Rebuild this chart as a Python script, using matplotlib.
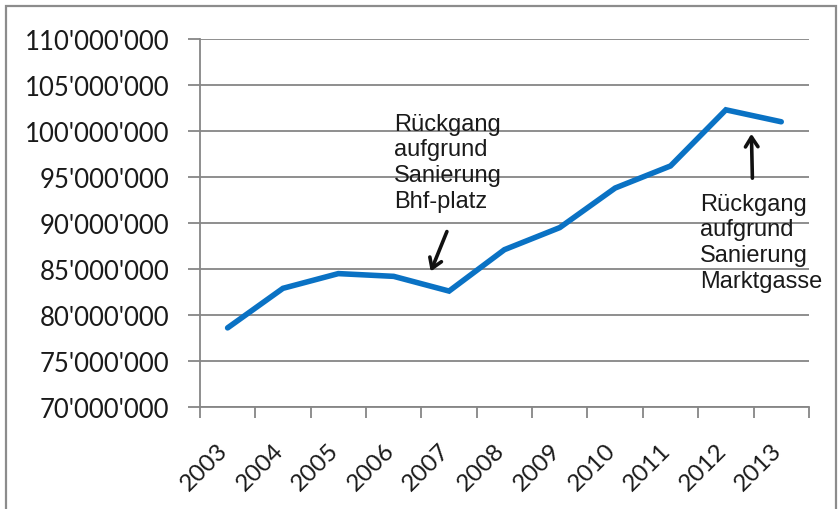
import matplotlib
matplotlib.use("Agg")
import matplotlib.pyplot as plt
from matplotlib.patches import Rectangle
from matplotlib.ticker import FuncFormatter, MultipleLocator

# Jahresumsatz 2003-2013
jahre = ['2003', '2004', '2005', '2006', '2007', '2008', '2009', '2010', '2011', '2012', '2013']
umsatz = [78_600_000, 82_900_000, 84_500_000, 84_200_000, 82_600_000, 87_100_000,
          89_500_000, 93_800_000, 96_200_000, 102_300_000, 101_000_000]

notiz_bhf = "Rückgang\naufgrund\nSanierung\nBhf-platz"
notiz_markt = "Rückgang\naufgrund\nSanierung\nMarktgasse"

GRAU = '#868686'
BLAU = '#0A72C4'

fig = plt.figure(figsize=(8.4, 5.1), dpi=100)
ax = fig.add_axes([0.238, 0.2, 0.725, 0.7216])

x = [i + 0.5 for i in range(len(jahre))]
ax.plot(x, umsatz, color=BLAU, lw=4, solid_capstyle='round', solid_joinstyle='miter', zorder=3)

ax.set_xlim(0, len(jahre))
ax.set_ylim(70_000_000, 110_000_000)
ax.yaxis.set_major_locator(MultipleLocator(5_000_000))
ax.yaxis.set_major_formatter(FuncFormatter(lambda v, _: f"{v:,.0f}".replace(',', "'")))
ax.grid(axis='y', color=GRAU, lw=1.3, zorder=1)

# Jahreslabels mittig, Teilstriche an den Kategoriegrenzen
ax.set_xticks([v + 0.08 for v in x])
ax.set_xticklabels(jahre, rotation=45, ha='right', va='top')
ax.set_xticks(range(len(jahre) + 1), minor=True)
ax.tick_params(axis='x', which='major', length=0, pad=23, labelsize=17.5, labelcolor='#1a1a1a')
ax.tick_params(axis='x', which='minor', length=8, width=1.3, color=GRAU, direction='out')
ax.tick_params(axis='y', length=9, width=1.3, color=GRAU, pad=13, labelsize=18.5, labelcolor='#1a1a1a')
for lab in ax.get_xticklabels() + ax.get_yticklabels():
    lab.set_family(['Lato', 'DejaVu Sans'])

for s in ('top', 'right'):
    ax.spines[s].set_visible(False)
for s in ('left', 'bottom'):
    ax.spines[s].set_color(GRAU)
    ax.spines[s].set_linewidth(1.3)

# Anmerkungen
txt = dict(fontsize=17, family=['Liberation Sans', 'DejaVu Sans'], color='#1a1a1a',
           va='top', ha='left', linespacing=1.22)
ax.text(3.5, 102.0e6, notiz_bhf, **txt)
ax.text(9.03, 93.3e6, notiz_markt, **txt)
pfeil = dict(arrowstyle='->,head_length=0.7,head_width=0.45', color='#111111', lw=2.6)
ax.annotate('', xy=(4.15, 84.45e6), xytext=(4.48, 89.35e6), arrowprops=pfeil)
ax.annotate('', xy=(9.96, 100.0e6), xytext=(9.98, 94.57e6), arrowprops=pfeil)

# Rahmen um das Diagramm
fig.patches.append(Rectangle((6 / 840, -0.05), 830 / 840, 1.05 - 7 / 510, transform=fig.transFigure,
                             fill=False, edgecolor='#8c8c8c', lw=1.6))

fig.savefig('out.png', dpi=100)
